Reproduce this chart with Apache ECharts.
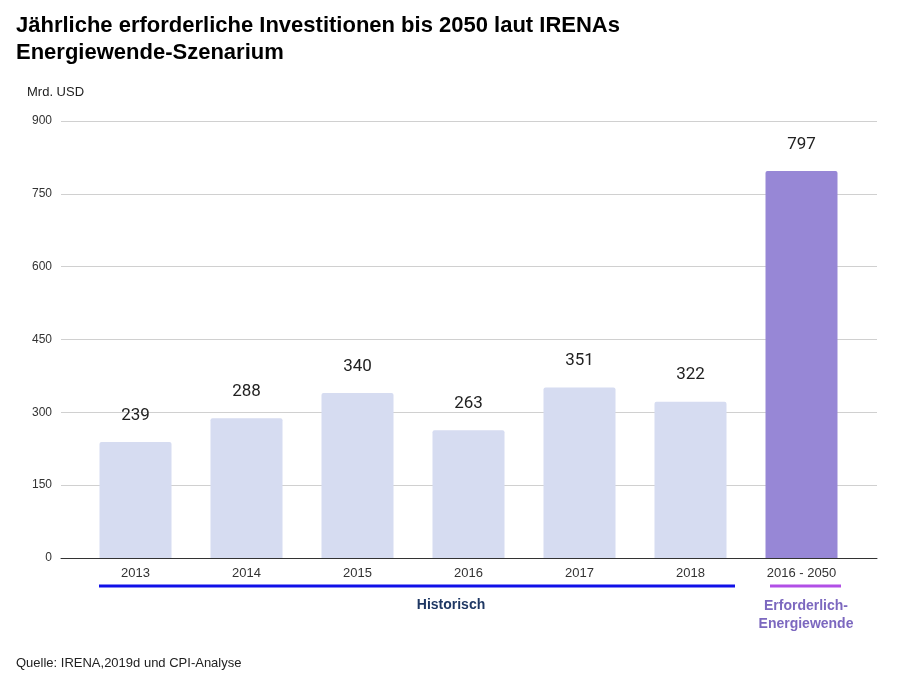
<!DOCTYPE html>
<html><head><meta charset="utf-8">
<script src="https://cdn.jsdelivr.net/npm/echarts@6/dist/echarts.min.js"></script>
<style>html,body{margin:0;padding:0;background:#fff}#c{width:903px;height:678px}</style>
</head><body><div id="c"></div>
<script>
const categories = ['2013','2014','2015','2016','2017','2018','2016 - 2050'];
const values = [239, 288, 340, 263, 351, 322, 797];
const yTicks = [0, 150, 300, 450, 600, 750, 900];
const groupLabels = ['Historisch', 'Erforderlich-\nEnergiewende'];

const lightColor = '#d6dcf1';
const strongColor = '#9787d6';

const chart = echarts.init(document.getElementById('c'));
const option = {
  animation: false,
  backgroundColor: '#fff',
  title: [
    { text: 'Jährliche erforderliche Investitionen bis 2050 laut IRENAs\nEnergiewende-Szenarium', left: 16, top: 12, padding: 0,
      textStyle: { fontFamily: 'Liberation Sans, Arial', fontSize: 22, fontWeight: 'bold', color: '#000', lineHeight: 27 } },
    { text: 'Mrd. USD', left: 27, top: 86, padding: 0, textStyle: { fontFamily: 'Liberation Sans, Arial', fontSize: 13, fontWeight: 'normal', color: '#222' } },
    { text: 'Quelle: IRENA,2019d und CPI-Analyse', left: 16, top: 657, padding: 0, textStyle: { fontFamily: 'Liberation Sans, Arial', fontSize: 13, fontWeight: 'normal', color: '#222' } }
  ],
  grid: [
    { left: 61, right: 26, top: 121, bottom: 120 },
    { left: 80, right: 46, top: 121, bottom: 120 }
  ],
  xAxis: [
    { gridIndex: 0, type: 'value', min: 0, max: 1, axisLabel: { show: false }, axisTick: { show: false }, splitLine: { show: false },
      axisLine: { show: true, lineStyle: { color: '#333', width: 1 } } },
    { gridIndex: 1, type: 'category', data: categories, axisLine: { show: false }, axisTick: { show: false },
      axisLabel: { margin: 9, fontFamily: 'Liberation Sans, Arial', fontSize: 13, color: '#333' } }
  ],
  yAxis: [
    { gridIndex: 0, type: 'value', min: yTicks[0], max: yTicks[yTicks.length-1], interval: 150,
      axisLine: { show: false }, axisTick: { show: false },
      axisLabel: { margin: 9, fontFamily: 'Liberation Sans, Arial', fontSize: 12, color: '#333' },
      splitLine: { lineStyle: { color: '#d0d0d0', width: 1 } } },
    { gridIndex: 1, type: 'value', min: 0, max: 900, show: false, splitLine: { show: false } }
  ],
  series: [{
    type: 'bar', xAxisIndex: 1, yAxisIndex: 1, barWidth: 72,
    data: values.map((v, i) => ({ value: v, itemStyle: { color: i === values.length - 1 ? strongColor : lightColor, borderRadius: [2,2,0,0] } })),
    label: { show: true, position: 'top', distance: 18, fontFamily: 'Roboto', fontSize: 17, color: '#222' }
  }],
  graphic: [
    { type: 'line', shape: { x1: 99, y1: 586, x2: 735, y2: 586 }, style: { stroke: '#1010e8', lineWidth: 3 } },
    { type: 'line', shape: { x1: 770, y1: 586, x2: 841, y2: 586 }, style: { stroke: '#b14fe6', lineWidth: 3 } },
    { type: 'text', x: 451, y: 605, style: { text: groupLabels[0], fill: '#1f3864', font: 'bold 14px "Liberation Sans", Arial', textAlign: 'center', textVerticalAlign: 'middle' } },
    { type: 'text', x: 806, y: 615, style: { text: groupLabels[1], fill: '#7c68bf', font: 'bold 14px "Liberation Sans", Arial', textAlign: 'center', textVerticalAlign: 'middle', lineHeight: 18 } }
  ]
};
chart.setOption(option);
</script></body></html>
